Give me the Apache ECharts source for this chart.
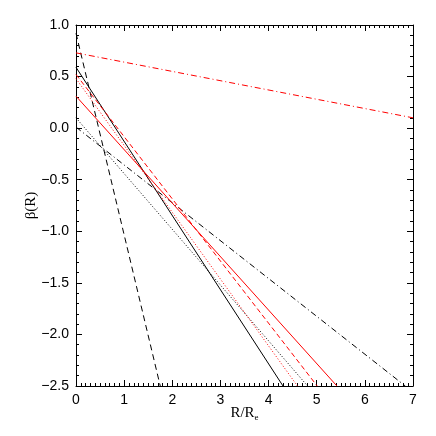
<!DOCTYPE html>
<html>
<head>
<meta charset="utf-8">
<script src="https://cdn.jsdelivr.net/npm/echarts@6/dist/echarts.min.js"></script>
<style>
  html, body { margin: 0; padding: 0; background: #fff; }
  #chart { width: 436px; height: 436px; }
</style>
</head>
<body>
<div id="chart"></div>
<script>
// each line: two end points [R/Re, beta]
var blackSolid = [[0, 0.59], [4.30, -2.5]];
var blackDashed = [[0, 0.92], [1.75, -2.5]];
var blackDotted = [[0, 0.10], [4.81, -2.5]];
var blackDashDot = [[0, 0.01], [6.84, -2.5]];
var redSolid = [[0, 0.31], [5.42, -2.5]];
var redDashed = [[0, 0.52], [5.01, -2.5]];
var redDotted = [[0, 0.48], [4.60, -2.5]];
var redDashDot = [[0, 0.73], [7, 0.10]];

var xTicks = [0, 1, 2, 3, 4, 5, 6, 7];
var yTicks = [-2.5, -2.0, -1.5, -1.0, -0.5, 0.0, 0.5, 1.0];

var chart = echarts.init(document.getElementById("chart"));

function line(data, color, type) {
  return {
    type: "line",
    data: data,
    symbol: "none",
    silent: true,
    animation: false,
    lineStyle: { color: color, width: 1, type: type }
  };
}

var font = "Liberation Sans";
var axisCommon = {
  axisLine: { onZero: false, lineStyle: { color: "#000", width: 1 } },
  axisTick: { inside: true, length: 6, lineStyle: { color: "#000" } },
  minorTick: { show: true, length: 3, lineStyle: { color: "#000" } },
  splitLine: { show: false }
};

chart.setOption({
  backgroundColor: "#fff",
  animation: false,
  grid: { left: 76, right: 23, top: 25, bottom: 50 },
  xAxis: [
    Object.assign({}, axisCommon, {
      type: "value", position: "bottom", min: xTicks[0], max: xTicks[xTicks.length - 1], interval: 1,
      minorTick: Object.assign({}, axisCommon.minorTick, { splitNumber: 10 }),
      axisLabel: { color: "#000", fontFamily: font, fontSize: 14, margin: 7 },
      name: "{a|R/R}{s|e}", nameLocation: "middle", nameGap: 19, nameMoveOverlap: false,
      nameTextStyle: {
        rich: {
          a: { fontFamily: "Liberation Serif", fontSize: 15, color: "#000" },
          s: { fontFamily: "Liberation Serif", fontSize: 9, color: "#000", verticalAlign: "bottom", padding: [8, 0, 0, 0] }
        }
      }
    }),
    Object.assign({}, axisCommon, {
      type: "value", position: "top", min: 0, max: 7, interval: 1,
      minorTick: Object.assign({}, axisCommon.minorTick, { splitNumber: 10 }),
      axisLabel: { show: false }
    })
  ],
  yAxis: [
    Object.assign({}, axisCommon, {
      type: "value", position: "left", min: yTicks[0], max: yTicks[yTicks.length - 1], interval: 0.5,
      minorTick: Object.assign({}, axisCommon.minorTick, { splitNumber: 5 }),
      axisLabel: {
        color: "#000", fontFamily: font, fontSize: 14, margin: 7,
        formatter: function (v) { return (v < 0 ? "\u2212" : "") + Math.abs(v).toFixed(1); }
      },
      name: "\u03b2(R)", nameLocation: "middle", nameGap: 37, nameMoveOverlap: false,
      nameTextStyle: { fontFamily: "Liberation Serif", fontSize: 15, color: "#000" }
    }),
    Object.assign({}, axisCommon, {
      type: "value", position: "right", min: -2.5, max: 1.0, interval: 0.5,
      minorTick: Object.assign({}, axisCommon.minorTick, { splitNumber: 5 }),
      axisLabel: { show: false }
    })
  ],
  series: [
    line(blackSolid, "#000", "solid"),
    line(blackDashed, "#000", [6, 4]),
    line(blackDotted, "#000", [1, 2]),
    line(blackDashDot, "#000", [6, 3, 1, 3]),
    line(redSolid, "#ff0000", "solid"),
    line(redDashed, "#ff0000", [5, 3]),
    line(redDotted, "#ff0000", [1, 2]),
    line(redDashDot, "#ff0000", [6, 3, 1, 3])
  ]
});
</script>
</body>
</html>
